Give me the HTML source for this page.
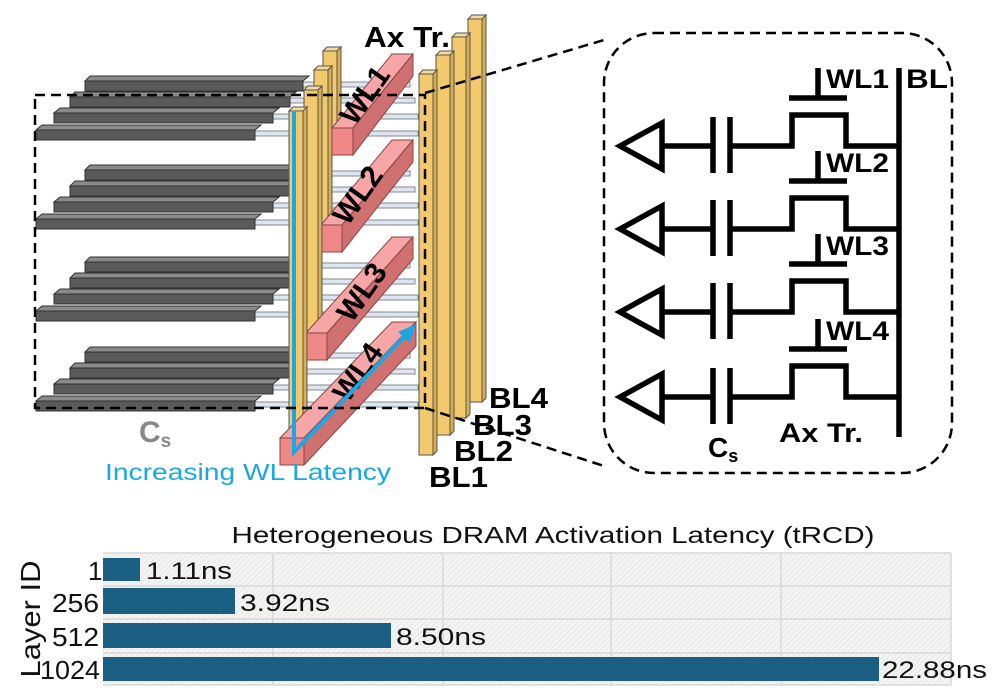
<!DOCTYPE html>
<html><head><meta charset="utf-8"><style>
html,body{margin:0;padding:0;background:#fff;}
svg{display:block;font-family:"Liberation Sans",Arial,sans-serif;}
</style></head><body>
<svg width="996" height="692" viewBox="0 0 996 692" xmlns="http://www.w3.org/2000/svg">
<defs>
<pattern id="hatch" width="4" height="4" patternUnits="userSpaceOnUse" patternTransform="rotate(45)">
<rect width="4" height="4" fill="#f4f4f4"/><line x1="0" y1="0" x2="0" y2="4" stroke="#e2e2e2" stroke-width="1.5"/>
</pattern>
</defs>

<!-- Gray plates and rods -->
<g stroke="#333" stroke-width="1">
<g id="grp0">
 <rect x="90" y="82" width="320" height="5" fill="#dce6f2" stroke="#888"/>
 <polygon points="90,76 309,76 303,81 85,81" fill="#8a8a8a"/><rect x="85" y="81" width="218" height="10" fill="#5a5a5a"/>
 <rect x="75" y="98" width="340" height="5" fill="#dce6f2" stroke="#888"/>
 <polygon points="75,92 296,92 290,97 70,97" fill="#8a8a8a"/><rect x="70" y="97" width="220" height="10" fill="#5a5a5a"/>
 <rect x="60" y="114" width="358" height="5" fill="#dce6f2" stroke="#888"/>
 <polygon points="60,108 279,108 273,113 54,113" fill="#8a8a8a"/><rect x="54" y="113" width="219" height="10" fill="#5a5a5a"/>
 <rect x="40" y="131" width="378" height="5" fill="#dce6f2" stroke="#888"/>
 <polygon points="42,125 261,125 255,130 36,130" fill="#8a8a8a"/><rect x="36" y="130" width="219" height="10" fill="#5a5a5a"/>
</g>
<use href="#grp0" y="89"/>
<use href="#grp0" y="181"/>
<use href="#grp0" y="271"/>
</g>

<!-- back Ax Tr pillars -->
<g stroke="#555" stroke-width="1">
 <polygon points="323,51 327,47 341,47 337,51" fill="#f6dc96"/><rect x="323" y="51" width="14" height="76" fill="#f2c96c"/><polygon points="337,51 341,47 341,123 337,127" fill="#d9ae50"/>
 <polygon points="314,70 318,66 332,66 328,70" fill="#f6dc96"/><rect x="314" y="70" width="14" height="155" fill="#f2c96c"/><polygon points="328,70 332,66 332,221 328,225" fill="#d9ae50"/>
</g>

<!-- Word lines -->
<g stroke="#8a4444" stroke-width="1">
 <polygon points="332,128 392,54 413,54 353,128" fill="#f6a6a6"/>
 <polygon points="353,128 413,54 413,76 353,155" fill="#d07070"/>
 <rect x="332" y="128" width="21" height="27" fill="#f08888"/>
 <polygon points="321,225 392,140 413,140 342,225" fill="#f6a6a6"/>
 <polygon points="342,225 413,140 413,162 342,252" fill="#d07070"/>
 <rect x="321" y="225" width="21" height="27" fill="#f08888"/>
</g>
<g stroke="#555" stroke-width="1">
 <polygon points="304,90 308,86 322,86 318,90" fill="#f6dc96"/><rect x="304" y="90" width="14" height="243" fill="#f2c96c"/><polygon points="318,90 322,86 322,329 318,333" fill="#d9ae50"/>
</g>
<g stroke="#8a4444" stroke-width="1">
 <polygon points="306,333 392,237 413,237 327,333" fill="#f6a6a6"/>
 <polygon points="327,333 413,237 413,259 327,360" fill="#d07070"/>
 <rect x="306" y="333" width="21" height="27" fill="#f08888"/>
</g>
<g stroke="#555" stroke-width="1">
 <polygon points="289,111 293,107 307,107 303,111" fill="#f6dc96"/><rect x="289" y="111" width="14" height="322" fill="#f2c96c"/><polygon points="303,111 307,107 307,429 303,433" fill="#d9ae50"/>
</g>
<g stroke="#8a4444" stroke-width="1">
 <polygon points="280,438 392,322 416,322 304,438" fill="#f6a6a6"/>
 <polygon points="304,438 416,322 416,346 304,465" fill="#d07070"/>
 <rect x="280" y="438" width="24" height="27" fill="#f08888"/>
</g>

<!-- WL labels -->
<g font-weight="bold" font-size="30" fill="#000" text-anchor="middle">
 <text transform="translate(373,101) rotate(-55)">WL1</text>
 <text transform="translate(366,201) rotate(-55)">WL2</text>
 <text transform="translate(370,298) rotate(-55)">WL3</text>
 <text transform="translate(366,378) rotate(-55)">WL4</text>
</g>

<!-- blue latency line -->
<polyline points="294,112 294,452 405,336" fill="none" stroke="#1aa8e4" stroke-width="4"/>
<polygon points="416,324 398,332 410,343" fill="#1aa8e4"/>

<!-- BL pillars -->
<g stroke="#555" stroke-width="1">
 <polygon points="468,19 472,15 486,15 482,19" fill="#f6dc96"/><rect x="468" y="19" width="14" height="383" fill="#f2c96c"/><polygon points="482,19 486,15 486,398 482,402" fill="#d9ae50"/>
 <polygon points="452,37 456,33 470,33 466,37" fill="#f6dc96"/><rect x="452" y="37" width="14" height="381" fill="#f2c96c"/><polygon points="466,37 470,33 470,414 466,418" fill="#d9ae50"/>
 <polygon points="436,55 440,51 454,51 450,55" fill="#f6dc96"/><rect x="436" y="55" width="14" height="380" fill="#f2c96c"/><polygon points="450,55 454,51 454,431 450,435" fill="#d9ae50"/>
 <polygon points="419,74 423,70 437,70 433,74" fill="#f6dc96"/><rect x="419" y="74" width="14" height="381" fill="#f2c96c"/><polygon points="433,74 437,70 437,451 433,455" fill="#d9ae50"/>
</g>

<!-- dashed selection box and connectors -->
<g fill="none" stroke="#000" stroke-width="2.5" stroke-dasharray="10,6">
 <rect x="35" y="95" width="390" height="313"/>
 <line x1="425" y1="93" x2="604" y2="40"/>
 <line x1="425" y1="408" x2="604" y2="466"/>
 <rect x="604" y="33" width="348" height="440" rx="50"/>
</g>

<!-- 3D labels -->
<g font-weight="bold" font-size="29" fill="#000">
 <text x="364" y="47" textLength="86" lengthAdjust="spacingAndGlyphs">Ax Tr.</text>
 <text x="489" y="408" textLength="59" lengthAdjust="spacingAndGlyphs">BL4</text>
 <text x="473" y="435" textLength="59" lengthAdjust="spacingAndGlyphs">BL3</text>
 <text x="454" y="461" textLength="59" lengthAdjust="spacingAndGlyphs">BL2</text>
 <text x="429" y="487" textLength="59" lengthAdjust="spacingAndGlyphs">BL1</text>
</g>
<text x="139" y="442" font-weight="bold" font-size="30" fill="#888">C<tspan font-size="19" dy="5">s</tspan></text>
<text x="105" y="480" font-size="23" fill="#1aa8e4" textLength="286" lengthAdjust="spacingAndGlyphs">Increasing WL Latency</text>

<!-- Circuit -->
<g fill="none" stroke="#000" stroke-width="5.5">
 <line x1="899" y1="68" x2="899" y2="437"/>
 <g id="cell">
  <polygon points="620,146 662,123 662,169"/>
  <line x1="662" y1="146" x2="713" y2="146"/>
  <line x1="713" y1="117" x2="713" y2="173"/>
  <line x1="730" y1="117" x2="730" y2="173"/>
  <polyline points="730,146 792,146 792,115 846,115 846,146 899,146"/>
  <line x1="789" y1="98" x2="847" y2="98"/>
  <line x1="818" y1="98" x2="818" y2="68"/>
 </g>
 <use href="#cell" y="83"/>
 <use href="#cell" y="166"/>
 <use href="#cell" y="251"/>
</g>
<g font-weight="bold" font-size="27" fill="#000">
 <text x="826" y="88" textLength="63" lengthAdjust="spacingAndGlyphs">WL1</text>
 <text x="906" y="88" textLength="42" lengthAdjust="spacingAndGlyphs">BL</text>
 <text x="826" y="172" textLength="63" lengthAdjust="spacingAndGlyphs">WL2</text>
 <text x="826" y="255" textLength="63" lengthAdjust="spacingAndGlyphs">WL3</text>
 <text x="826" y="340" textLength="63" lengthAdjust="spacingAndGlyphs">WL4</text>
 <text x="779" y="442" textLength="84" lengthAdjust="spacingAndGlyphs">Ax Tr.</text>
 <text x="708" y="457" font-size="28">C<tspan font-size="18" dy="5">s</tspan></text>
</g>

<!-- Chart -->
<text x="553" y="543" font-size="23" text-anchor="middle" textLength="643" lengthAdjust="spacingAndGlyphs" fill="#111">Heterogeneous DRAM Activation Latency (tRCD)</text>
<rect x="103" y="553" width="848" height="132" fill="url(#hatch)"/>
<g stroke="#d8d8d8" stroke-width="1.5">
 <line x1="273" y1="553" x2="273" y2="685"/>
 <line x1="443" y1="553" x2="443" y2="685"/>
 <line x1="611" y1="553" x2="611" y2="685"/>
 <line x1="781" y1="553" x2="781" y2="685"/>
 <line x1="951" y1="553" x2="951" y2="685"/>
 <line x1="103" y1="553" x2="951" y2="553"/>
 <line x1="103" y1="586" x2="951" y2="586"/>
 <line x1="103" y1="619" x2="951" y2="619"/>
 <line x1="103" y1="653" x2="951" y2="653"/>
 <line x1="103" y1="685" x2="951" y2="685"/>
</g>
<g fill="#1b5f82">
 <rect x="103" y="558" width="37" height="23"/>
 <rect x="103" y="588" width="132" height="26"/>
 <rect x="103" y="623" width="288" height="25"/>
 <rect x="103" y="657" width="776" height="24"/>
</g>
<g font-size="24" fill="#111">
 <text x="146" y="579" textLength="86" lengthAdjust="spacingAndGlyphs">1.11ns</text>
 <text x="240" y="611" textLength="90" lengthAdjust="spacingAndGlyphs">3.92ns</text>
 <text x="396" y="645" textLength="90" lengthAdjust="spacingAndGlyphs">8.50ns</text>
 <text x="882" y="678" textLength="105" lengthAdjust="spacingAndGlyphs">22.88ns</text>
</g>
<g font-size="26" fill="#111">
 <text x="88" y="580">1</text>
 <text x="52" y="612" textLength="47" lengthAdjust="spacingAndGlyphs">256</text>
 <text x="52" y="646" textLength="47" lengthAdjust="spacingAndGlyphs">512</text>
 <text x="40" y="679" textLength="60" lengthAdjust="spacingAndGlyphs">1024</text>
</g>
<text transform="translate(40,619) rotate(-90)" font-size="28" text-anchor="middle" fill="#111" textLength="117" lengthAdjust="spacingAndGlyphs">Layer ID</text>
</svg>
</body></html>
